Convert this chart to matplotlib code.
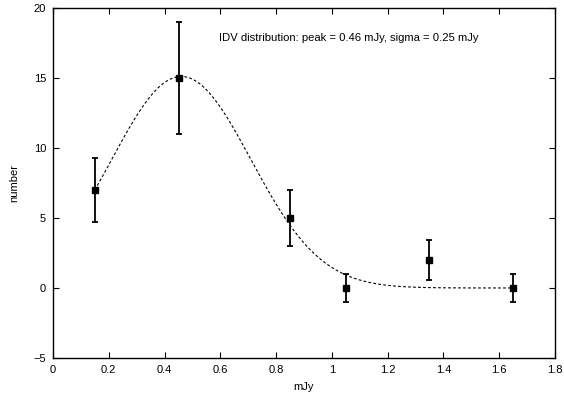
import numpy as np
import matplotlib
matplotlib.use("Agg")
import matplotlib.pyplot as plt

plt.rcParams['font.family'] = ['Liberation Sans', 'DejaVu Sans']

# measured histogram of IDV amplitudes
flux = [0.15, 0.45, 0.85, 1.05, 1.35, 1.65]
counts = [7, 15, 5, 0, 2, 0]
errors = [2.3, 4.0, 2.0, 1.0, 1.4, 1.0]

# gaussian fit parameters
fit_peak = 0.46
fit_sigma = 0.25
fit_amp = 15.1

fig = plt.figure(figsize=(5.64, 3.93), dpi=100)
ax = fig.add_axes([0.094, 0.089, 0.890, 0.891])

xs = np.linspace(flux[0], flux[-1], 200)
ys = fit_amp * np.exp(-(xs - fit_peak) ** 2 / (2 * fit_sigma ** 2))
ax.plot(xs, ys, color='black', lw=0.8, linestyle=(0, (2.5, 2)))

ax.errorbar(flux, counts, yerr=errors, fmt='s', color='black', ms=5,
            elinewidth=1.3, capsize=2.5, capthick=1.3)

ax.text(0.596, 17.86, "IDV distribution: peak = 0.46 mJy, sigma = 0.25 mJy",
        fontsize=8.1, va='center', ha='left')

ax.set_xlim(0, 1.8)
ax.set_ylim(-5, 20)
ax.set_xticks(np.arange(0, 1.81, 0.2))
ax.set_xticklabels(['0', '0.2', '0.4', '0.6', '0.8', '1', '1.2', '1.4', '1.6', '1.8'])
ax.set_yticks([-5, 0, 5, 10, 15, 20])
ax.tick_params(direction='in', top=True, right=True, length=4, width=0.8,
               labelsize=8, pad=5)
for s in ax.spines.values():
    s.set_linewidth(1.0)

ax.set_xlabel("mJy", fontsize=8, labelpad=5)
ax.set_ylabel("number", fontsize=8, labelpad=10)

fig.savefig("out.png", dpi=100)
